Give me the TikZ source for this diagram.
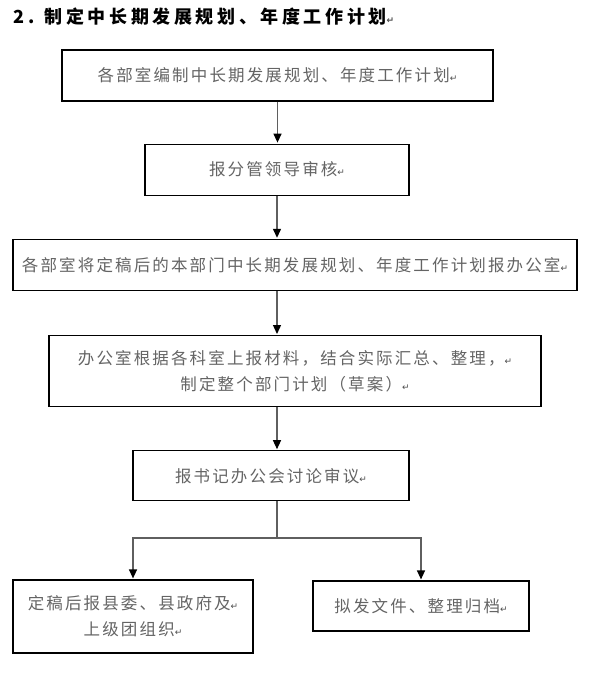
\documentclass[tikz,border=0pt]{standalone}
\usepackage{fontspec}
\usetikzlibrary{arrows.meta, positioning}
\newfontfamily\cjk[LetterSpace=13]{Noto Sans CJK SC}
\newfontfamily\cjktitle[LetterSpace=20]{Noto Sans CJK SC}
\newfontfamily\symf{DejaVu Sans}
\definecolor{boxtext}{RGB}{100, 100, 100}
\definecolor{linkgray}{RGB}{95, 95, 95}
\newcommand\pmark{{\symf\fontsize{9}{9}\selectfont\color{black!70}↵}}

\begin{document}
\begin{tikzpicture}[
  x=1pt, y=-1pt,
  flowbox/.style={rectangle, draw=black, line width=1.2pt, inner sep=0pt, align=center, font=\cjk\fontsize{16.5}{26}\selectfont, text=boxtext},
  arr/.style={-{Triangle[length=9pt, width=8pt, color=black]}, draw=linkgray, line width=1.3pt, shorten >=1pt},
  link/.style={draw=linkgray, line width=1.3pt}
]
  \useasboundingbox (0,0) rectangle (590,682);

  \node[anchor=west, font=\cjktitle\bfseries\fontsize{18}{20}\selectfont] (title) at (10,17) {2. 制定中长期发展规划、年度工作计划\pmark};

  \node[flowbox, minimum width=431pt, minimum height=51pt] (plan) at (277.5,75.5) {各部室编制中长期发展规划、年度工作计划\pmark};
  \node[flowbox, minimum width=264pt, minimum height=51pt, below=42pt of plan, xshift=-0.5pt] (review) {报分管领导审核\pmark};
  \node[flowbox, minimum width=564pt, minimum height=51pt, below=43pt of review, xshift=18pt] (submit) {各部室将定稿后的本部门中长期发展规划、年度工作计划报办公室\pmark};
  \node[flowbox, minimum width=492pt, minimum height=71pt, below=44pt of submit] (draft) {
    办公室根据各科室上报材料，结合实际汇总、整理，\pmark\\
    制定整个部门计划（草案）\pmark
  };
  \node[flowbox, minimum width=276pt, minimum height=50pt, below=43pt of draft, xshift=-24pt] (meeting) {报书记办公会讨论审议\pmark};
  \node[flowbox, minimum width=240pt, minimum height=73pt] (report) at (133,616.5) {
    定稿后报县委、县政府及\pmark\\
    上级团组织\pmark
  };
  \node[flowbox, minimum width=216pt, minimum height=50pt] (archive) at (421,606) {拟发文件、整理归档\pmark};

  \coordinate (fork) at (277,538);

  \draw[arr] (plan) -- (plan |- review.north);
  \draw[arr] (review) -- (review |- submit.north);
  \draw[arr] (fork |- submit.south) -- (fork |- draft.north);
  \draw[arr] (fork |- draft.south) -- (fork |- meeting.north);
  \draw[link] (fork |- meeting.south) -- (fork);
  \draw[arr] (fork) -| (report);
  \draw[arr] (fork) -| (archive);

\end{tikzpicture}
\end{document}
